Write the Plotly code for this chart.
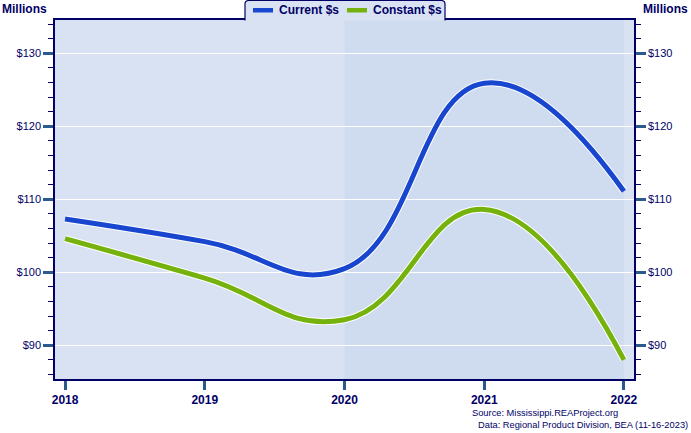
import plotly.graph_objects as go

# values (millions of dollars)
years = [2018, 2019, 2020, 2021, 2022]
current = [107.3, 104.2, 100.5, 125.9, 111.1]
constant = [104.6, 99.2, 93.5, 108.6, 88.0]
series_names = ["Current $s", "Constant $s"]
y_ticks = [90, 100, 110, 120, 130]
y_labels = ["$90", "$100", "$110", "$120", "$130"]

NAVY = "#000066"
BLUE = "#1946CF"
GREEN = "#76B20E"
BG_LIGHT = "#D9E2F2"
BG_DARK = "#CFDBEE"

W, H = 691, 433
L, R, T, B = 55, 634, 20, 379


def px(x):
    return (x - L) / (R - L)


def py(y):
    return (B - y) / (B - T)


fig = go.Figure()

for vals, color in [(current, BLUE), (constant, GREEN)]:
    fig.add_trace(go.Scatter(x=years, y=vals, mode="lines",
                             line=dict(color="white", width=7, shape="spline",
                                       smoothing=1.3),
                             showlegend=False, hoverinfo="skip"))
    fig.add_trace(go.Scatter(x=years, y=vals, mode="lines",
                             line=dict(color=color, width=5, shape="spline",
                                       smoothing=1.3),
                             showlegend=False))

# invisible trace to drive the right axis
fig.add_trace(go.Scatter(x=years, y=current, yaxis="y2", mode="lines",
                         line=dict(width=0), opacity=0, showlegend=False,
                         hoverinfo="skip"))

shapes = [
    # shaded band 2020-2022
    dict(type="rect", xref="x", yref="paper", x0=2020, x1=2022, y0=0, y1=1,
         fillcolor=BG_DARK, line_width=0, layer="below"),
    # legend tab
    dict(type="path", xref="paper", yref="paper",
         path=(f"M {px(245)},{py(20.5)} L {px(245)},{py(4)} "
               f"Q {px(245)},{py(0.5)} {px(249)},{py(0.5)} "
               f"L {px(441)},{py(0.5)} Q {px(445)},{py(0.5)} {px(445)},{py(4)} "
               f"L {px(445)},{py(20.5)}"),
         fillcolor=BG_LIGHT, line=dict(color=NAVY, width=1.2), layer="above"),
    # legend swatches
    dict(type="rect", xref="paper", yref="paper", x0=px(253), x1=px(273),
         y0=py(12.5), y1=py(8), fillcolor=BLUE, line_width=0, layer="above"),
    dict(type="rect", xref="paper", yref="paper", x0=px(347), x1=px(367),
         y0=py(12.5), y1=py(8), fillcolor=GREEN, line_width=0, layer="above"),
]

label_font = dict(family="Liberation Sans, Arial, sans-serif", size=12,
                  color=NAVY)
annotations = [
    dict(text="<b>Millions</b>", x=px(0), y=py(9), xanchor="left",
         yanchor="middle"),
    dict(text="<b>Millions</b>", x=px(690), y=py(9), xanchor="right",
         yanchor="middle"),
    dict(text=f"<b>{series_names[0]}</b>", x=px(277), y=py(10),
         xanchor="left", yanchor="middle"),
    dict(text=f"<b>{series_names[1]}</b>", x=px(371), y=py(10),
         xanchor="left", yanchor="middle"),
]
for a in annotations:
    a.update(xref="paper", yref="paper", showarrow=False, font=label_font)

small = dict(family="Liberation Sans Narrow, Arial Narrow, Liberation Sans, sans-serif",
             size=9.3, color=NAVY)
annotations += [
    dict(text="Source: Mississippi.REAProject.org", x=px(620), y=py(413)),
    dict(text="Data: Regional Product Division, BEA (11-16-2023)",
         x=px(690), y=py(425)),
]
for a in annotations[-2:]:
    a.update(xref="paper", yref="paper", showarrow=False, xanchor="right",
             yanchor="middle", font=small)

yaxis_common = dict(
    range=[85.38, 134.56],
    tickvals=y_ticks,
    ticktext=y_labels,
    ticks="outside",
    ticklen=10,
    tickwidth=2.5,
    tickcolor="#2B5A8C",
    tickfont=dict(family="Liberation Sans, Arial, sans-serif", size=11,
                  color=NAVY),
    showline=True,
    linecolor=NAVY,
    linewidth=1.5,
    zeroline=False,
    minor=dict(dtick=2, tick0=0, ticks="outside", ticklen=5, tickwidth=1,
               tickcolor=NAVY, showgrid=False),
    fixedrange=True,
)

fig.update_layout(
    width=W,
    height=H,
    margin=dict(l=L, r=W - R, t=T, b=H - B, pad=0),
    paper_bgcolor="white",
    plot_bgcolor=BG_LIGHT,
    showlegend=False,
    xaxis=dict(
        range=[2017.928, 2022.072],
        tickvals=years,
        ticks="outside",
        ticklen=9,
        tickwidth=2.5,
        tickcolor="#2B5A8C",
        tickfont=dict(family="Liberation Sans, Arial, sans-serif", size=12,
                      color=NAVY, weight="bold"),
        showgrid=False,
        showline=True,
        linecolor=NAVY,
        linewidth=1.5,
        mirror=True,
        zeroline=False,
        fixedrange=True,
    ),
    yaxis=dict(**yaxis_common, showgrid=True, gridcolor="white",
               gridwidth=1, side="left"),
    yaxis2=dict(**yaxis_common, showgrid=False, overlaying="y",
                side="right"),
    shapes=shapes,
    annotations=annotations,
)

fig.write_html("out.html", config={"displayModeBar": False},
               post_script="document.body.style.margin='0';")
